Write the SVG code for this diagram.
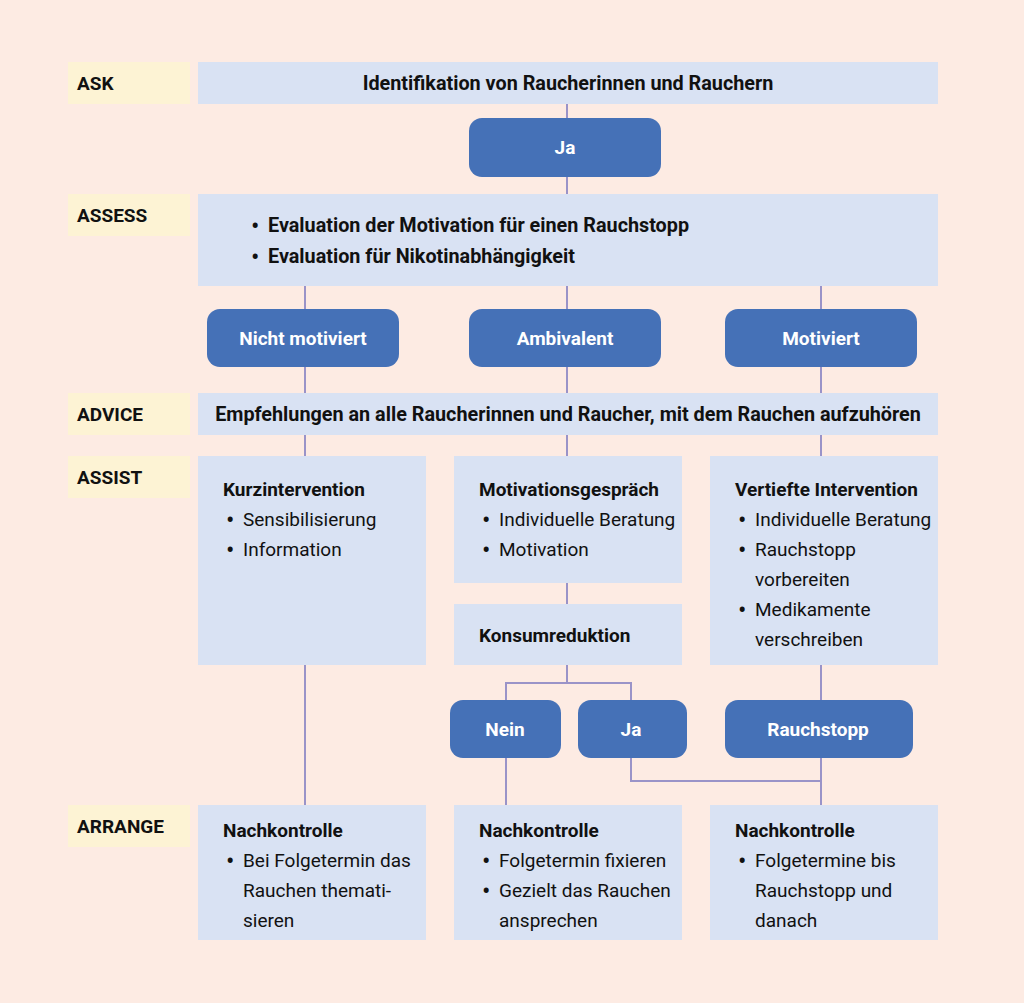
<svg xmlns="http://www.w3.org/2000/svg" width="1024" height="1003" viewBox="0 0 1024 1003">
<style>
.bg{fill:#fdebe3}
.lbl{fill:#fdf3d4}
.box{fill:#d9e2f3}
.pill{fill:#4571b7}
.t{font-family:Roboto,"Liberation Sans",sans-serif;font-size:19px;fill:#111}
.b{font-weight:bold}
.h{font-size:19.8px}
.d{font-size:25px}
.w{fill:#fff;font-weight:bold;text-anchor:middle}
.c{text-anchor:middle}
.ln{stroke:#9a93c8;stroke-width:2;fill:none}
</style>
<rect class="bg" x="0" y="0" width="1024" height="1003"/>
<g id="connectors">
<path class="ln" d="M567 104V118M567 177V194"/>
<path class="ln" d="M305 286V309M567 286V309M821 286V309"/>
<path class="ln" d="M305 367V393M567 367V393M821 367V393"/>
<path class="ln" d="M305 435V456M567 435V456M821 435V456"/>
<path class="ln" d="M567 583V604"/>
<path class="ln" d="M567 665V683M506 700V683H631V700"/>
<path class="ln" d="M821 665V700"/>
<path class="ln" d="M305 665V805"/>
<path class="ln" d="M506 758V805"/>
<path class="ln" d="M631 758V781H821M821 758V805"/>
</g>
<g id="label-ask"><rect class="lbl" x="68" y="62" width="122" height="42"/><text class="t b" x="77" y="90">ASK</text></g>
<g id="label-assess"><rect class="lbl" x="68" y="194" width="122" height="42"/><text class="t b" x="77" y="222">ASSESS</text></g>
<g id="label-advice"><rect class="lbl" x="68" y="393" width="122" height="42"/><text class="t b" x="77" y="421">ADVICE</text></g>
<g id="label-assist"><rect class="lbl" x="68" y="456" width="122" height="42"/><text class="t b" x="77" y="484">ASSIST</text></g>
<g id="label-arrange"><rect class="lbl" x="68" y="805" width="122" height="42"/><text class="t b" x="77" y="833">ARRANGE</text></g>

<g id="ask-box"><rect class="box" x="198" y="62" width="740" height="42"/><text class="t b h c" x="568" y="90">Identifikation von Raucherinnen und Rauchern</text></g>
<g id="ja-top"><rect class="pill" x="469" y="118" width="192" height="59" rx="13"/><text class="t w" x="565" y="154">Ja</text></g>
<g id="assess-box"><rect class="box" x="198" y="194" width="740" height="92"/>
<text class="t d" x="251" y="235">•</text><text class="t b h" x="268" y="232">Evaluation der Motivation für einen Rauchstopp</text>
<text class="t d" x="251" y="266">•</text><text class="t b h" x="268" y="263">Evaluation für Nikotinabhängigkeit</text></g>
<g id="nicht-motiviert"><rect class="pill" x="207" y="309" width="192" height="58" rx="13"/><text class="t w" x="303" y="345">Nicht motiviert</text></g>
<g id="ambivalent"><rect class="pill" x="469" y="309" width="192" height="58" rx="13"/><text class="t w" x="565" y="345">Ambivalent</text></g>
<g id="motiviert"><rect class="pill" x="725" y="309" width="192" height="58" rx="13"/><text class="t w" x="821" y="345">Motiviert</text></g>
<g id="advice-box"><rect class="box" x="198" y="393" width="740" height="42"/><text class="t b h c" x="568" y="421">Empfehlungen an alle Raucherinnen und Raucher, mit dem Rauchen aufzuhören</text></g>

<g id="kurzintervention"><rect class="box" x="198" y="456" width="228" height="209"/>
<text class="t b" x="223" y="496">Kurzintervention</text>
<text class="t d" x="226" y="529">•</text><text class="t" x="243" y="526">Sensibilisierung</text>
<text class="t d" x="226" y="559">•</text><text class="t" x="243" y="556">Information</text></g>
<g id="motivationsgespraech"><rect class="box" x="454" y="456" width="228" height="127"/>
<text class="t b" x="479" y="496">Motivationsgespräch</text>
<text class="t d" x="482" y="529">•</text><text class="t" x="499" y="526">Individuelle Beratung</text>
<text class="t d" x="482" y="559">•</text><text class="t" x="499" y="556">Motivation</text></g>
<g id="konsumreduktion"><rect class="box" x="454" y="604" width="228" height="61"/>
<text class="t b" x="479" y="642">Konsumreduktion</text></g>
<g id="vertiefte-intervention"><rect class="box" x="710" y="456" width="228" height="209"/>
<text class="t b" x="735" y="496">Vertiefte Intervention</text>
<text class="t d" x="738" y="529">•</text><text class="t" x="755" y="526">Individuelle Beratung</text>
<text class="t d" x="738" y="559">•</text><text class="t" x="755" y="556">Rauchstopp</text>
<text class="t" x="755" y="586">vorbereiten</text>
<text class="t d" x="738" y="619">•</text><text class="t" x="755" y="616">Medikamente</text>
<text class="t" x="755" y="646">verschreiben</text></g>

<g id="nein"><rect class="pill" x="450" y="700" width="111" height="58" rx="13"/><text class="t w" x="505" y="736">Nein</text></g>
<g id="ja"><rect class="pill" x="578" y="700" width="109" height="58" rx="13"/><text class="t w" x="631" y="736">Ja</text></g>
<g id="rauchstopp"><rect class="pill" x="725" y="700" width="188" height="58" rx="13"/><text class="t w" x="818" y="736">Rauchstopp</text></g>

<g id="nachkontrolle-1"><rect class="box" x="198" y="805" width="228" height="135"/>
<text class="t b" x="223" y="837">Nachkontrolle</text>
<text class="t d" x="226" y="870">•</text><text class="t" x="243" y="867">Bei Folgetermin das</text>
<text class="t" x="243" y="897">Rauchen themati-</text>
<text class="t" x="243" y="927">sieren</text></g>
<g id="nachkontrolle-2"><rect class="box" x="454" y="805" width="228" height="135"/>
<text class="t b" x="479" y="837">Nachkontrolle</text>
<text class="t d" x="482" y="870">•</text><text class="t" x="499" y="867">Folgetermin fixieren</text>
<text class="t d" x="482" y="900">•</text><text class="t" x="499" y="897">Gezielt das Rauchen</text>
<text class="t" x="499" y="927">ansprechen</text></g>
<g id="nachkontrolle-3"><rect class="box" x="710" y="805" width="228" height="135"/>
<text class="t b" x="735" y="837">Nachkontrolle</text>
<text class="t d" x="738" y="870">•</text><text class="t" x="755" y="867">Folgetermine bis</text>
<text class="t" x="755" y="897">Rauchstopp und</text>
<text class="t" x="755" y="927">danach</text></g>
</svg>
